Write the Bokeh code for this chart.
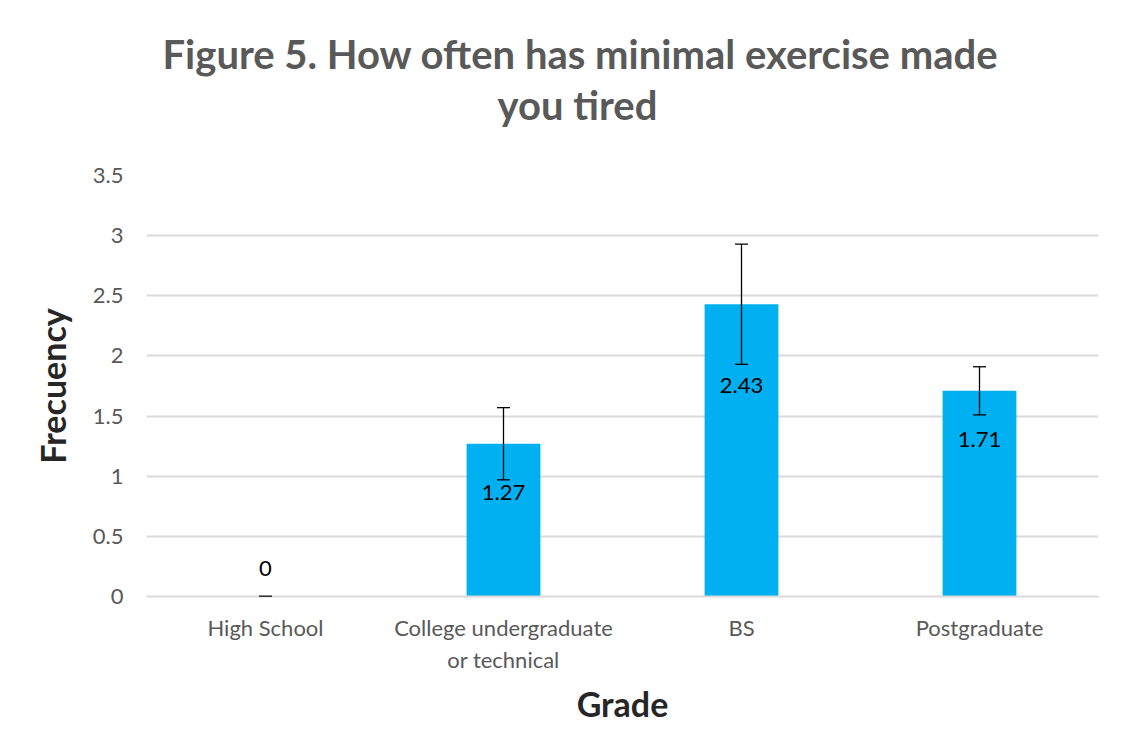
from bokeh.plotting import figure
from bokeh.models import ColumnDataSource, Whisker, TeeHead, Title, FactorRange
from bokeh.core.properties import value
from bokeh.embed import file_html
from bokeh.resources import INLINE

categories = ["High School", "College undergraduate\nor technical", "BS", "Postgraduate"]
means = [0.0, 1.27, 2.43, 1.71]
errors = [0.0, 0.30, 0.50, 0.20]
label_texts = ["0", "1.27", "2.43", "1.71"]
y_ticks = [0, 0.5, 1, 1.5, 2, 2.5, 3, 3.5]
title_lines = ["Figure 5. How often has minimal exercise made", "you tired"]

FONT = "Lato"
GRAY = "#595959"

lower = [m - e for m, e in zip(means, errors)]
upper = [m + e for m, e in zip(means, errors)]
label_offsets = [-28, 49, 81, 49]

src = ColumnDataSource(dict(cat=categories, val=means, lo=lower, hi=upper,
                            txt=label_texts, off=label_offsets))

p = figure(width=1137, height=736, x_range=FactorRange(*categories), y_range=(0, 3.5),
           output_backend="svg", toolbar_location=None,
           min_border_left=146, min_border_right=39, min_border_top=175, min_border_bottom=140)
p.outline_line_color = None
p.background_fill_color = "white"
p.border_fill_color = "white"

p.vbar(x="cat", top="val", bottom=0, width=0.31, source=src,
       fill_color="#00B0F0", line_color=None)

w = Whisker(source=src, base="cat", lower="lo", upper="hi", line_color="black", line_width=1.3,
            upper_head=TeeHead(size=13, line_color="black", line_width=1.3),
            lower_head=TeeHead(size=13, line_color="black", line_width=1.3),
            level="overlay")
p.add_layout(w)

p.text(x="cat", y="val", text="txt", source=src, y_offset="off",
       text_align="center", text_baseline="middle", text_font=value(FONT),
       text_font_size="22px", text_color="black")

# axes
p.yaxis.ticker = y_ticks
p.yaxis.axis_line_color = None
p.yaxis.major_tick_line_color = None
p.yaxis.minor_tick_line_color = None
p.yaxis.major_label_text_font = FONT
p.yaxis.major_label_text_font_size = "22px"
p.yaxis.major_label_text_color = GRAY
p.yaxis.major_label_standoff = 17
p.yaxis.axis_label = "Frecuency"
p.yaxis.axis_label_text_font = FONT
p.yaxis.axis_label_text_font_size = "34px"
p.yaxis.axis_label_text_font_style = "bold"
p.yaxis.axis_label_text_color = "#262626"
p.yaxis.axis_label_standoff = 17

p.xaxis.axis_line_color = "#d9d9d9"
p.xaxis.axis_line_width = 2
p.xaxis.major_tick_line_color = None
p.xaxis.minor_tick_line_color = None
p.xaxis.major_label_text_font = FONT
p.xaxis.major_label_text_font_size = "22px"
p.xaxis.major_label_text_color = GRAY
p.xaxis.major_label_standoff = 11
p.xaxis.axis_label = "Grade"
p.xaxis.axis_label_text_font = FONT
p.xaxis.axis_label_text_font_size = "34px"
p.xaxis.axis_label_text_font_style = "bold"
p.xaxis.axis_label_text_color = "#262626"
p.xaxis.axis_label_standoff = 7

p.xgrid.grid_line_color = None
p.ygrid.grid_line_color = "#d9d9d9"
p.ygrid.grid_line_width = 2

# title (two lines): p.title is outermost; first-added panels sit nearest the frame
p.title.text = title_lines[0]
p.title.align = "left"
p.title.offset = 16
p.title.text_font = FONT
p.title.text_font_size = "40px"
p.title.text_font_style = "bold"
p.title.text_color = GRAY
p.title.standoff = 0
spacer = Title(text=" ", text_font_size="10px", standoff=33)
p.add_layout(spacer, "above")
t2 = Title(text=title_lines[1], align="left", offset=351, text_font=FONT, text_font_size="40px",
           text_font_style="bold", text_color=GRAY, standoff=2)
p.add_layout(t2, "above")

open("out.html", "w").write(file_html(p, INLINE))
